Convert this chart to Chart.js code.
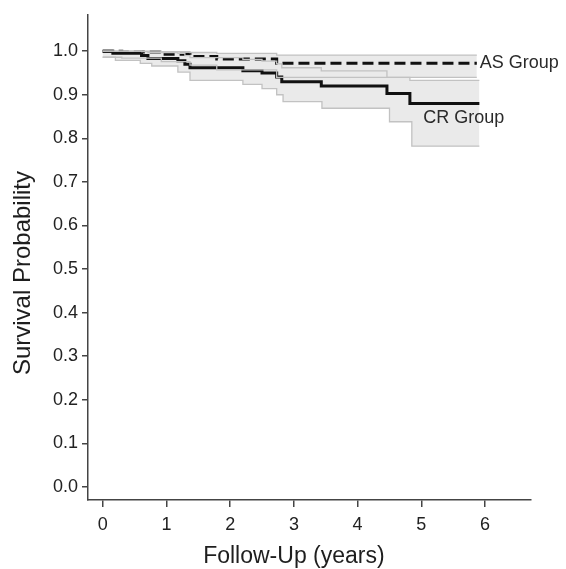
<!DOCTYPE html>
<html>
<head>
<meta charset="utf-8">
<script src="https://cdn.jsdelivr.net/npm/chart.js@4/dist/chart.umd.min.js"></script>
<style>
  html, body { margin: 0; padding: 0; background: #fff; }
  #wrap { width: 566px; height: 569px; }
</style>
</head>
<body>
<div id="wrap"><canvas id="kmChart" width="566" height="569"></canvas></div>
<script>
// tick labels
const xTicks = [0, 1, 2, 3, 4, 5, 6];
const yTicks = [0, 0.1, 0.2, 0.3, 0.4, 0.5, 0.6, 0.7, 0.8, 0.9, 1.0];

// AS group: survival estimate and confidence band (years / probability)
const asTime  = [0, 0.3, 0.92, 1.37, 1.79, 2.73, 5.87];
const asSurv  = [1.0, 0.998, 0.993, 0.988, 0.982, 0.972, 0.972];
const asUpper = [1.0, 1.0, 0.999, 0.997, 0.995, 0.991, 0.991];
const asLower = [0.986, 0.984, 0.976, 0.968, 0.957, 0.94, 0.94];

// CR group
const crTime  = [0, 0.16, 0.61, 0.71, 1.18, 1.29, 1.37, 2.2, 2.5, 2.73, 2.81, 3.43, 4.46, 4.82, 5.91];
const crSurv  = [1.0, 0.995, 0.99, 0.983, 0.978, 0.970, 0.962, 0.955, 0.950, 0.941, 0.930, 0.920, 0.903, 0.880, 0.880];
const crUpper = [1.0, 1.0, 0.999, 0.997, 0.995, 0.99, 0.985, 0.981, 0.977, 0.971, 0.962, 0.955, 0.94, 0.933, 0.933];
const crLowTime = [0, 0.2, 0.59, 0.77, 1.18, 1.37, 2.2, 2.5, 2.73, 2.83, 3.44, 4.5, 4.85, 5.91];
const crLower   = [0.986, 0.979, 0.972, 0.966, 0.952, 0.933, 0.924, 0.914, 0.9, 0.884, 0.869, 0.838, 0.782, 0.782];

const FONT = '"Liberation Sans", Arial, Helvetica, sans-serif';
Chart.defaults.font.family = FONT;

const pts = (t, v) => t.map((x, i) => ({ x: x, y: v[i] }));

const band = (data, fill) => ({
  data: data,
  stepped: true,
  pointRadius: 0,
  borderColor: "#c2c2c2",
  borderWidth: 1.3,
  backgroundColor: "#eaeaea",
  fill: fill
});

const axisTitles = {
  id: "axisTitles",
  afterDraw(chart) {
    const { ctx, scales: { x, y } } = chart;
    ctx.save();
    ctx.fillStyle = "#1e1e1e";
    ctx.textAlign = "center";

    ctx.font = "23px " + FONT;
    ctx.textBaseline = "alphabetic";
    const xc = (x.getPixelForValue(xTicks[0]) + x.getPixelForValue(xTicks[xTicks.length - 1])) / 2;
    ctx.fillText("Follow-Up (years)", xc, 563);

    const yc = (y.getPixelForValue(yTicks[0]) + y.getPixelForValue(yTicks[yTicks.length - 1])) / 2;
    ctx.font = "24px " + FONT;
    ctx.translate(23, yc + 4);
    ctx.rotate(-Math.PI / 2);
    ctx.textBaseline = "middle";
    ctx.fillText("Survival Probability", 0, 0);
    ctx.restore();

    // group labels
    ctx.save();
    ctx.fillStyle = "#2a2a2a";
    ctx.font = "18px " + FONT;
    ctx.textAlign = "left";
    ctx.textBaseline = "middle";
    const last = asTime.length - 1;
    ctx.fillText("AS Group", x.getPixelForValue(asTime[last]) + 3, y.getPixelForValue(asSurv[last]));
    ctx.fillText("CR Group", x.getPixelForValue(5.03), y.getPixelForValue(0.846));
    ctx.restore();
  }
};

new Chart(document.getElementById("kmChart").getContext("2d"), {
  type: "line",
  data: {
    datasets: [
      band(pts(asTime, asUpper), "+1"),
      band(pts(asTime, asLower), false),
      band(pts(crTime, crUpper), "+1"),
      band(pts(crLowTime, crLower), false),
      {
        label: "CR Group",
        data: pts(crTime, crSurv),
        stepped: true,
        pointRadius: 0,
        borderColor: "#111",
        borderWidth: 3,
        fill: false
      },
      {
        label: "AS Group",
        data: pts(asTime, asSurv),
        stepped: true,
        pointRadius: 0,
        borderColor: "#111",
        borderWidth: 3,
        borderDash: [11, 5],
        fill: false
      }
    ]
  },
  options: {
    responsive: false,
    animation: false,
    layout: { padding: { top: 15, right: 35, left: 0, bottom: 0 } },
    plugins: {
      legend: { display: false },
      tooltip: { enabled: false },
      filler: { drawTime: "beforeDatasetsDraw" }
    },
    scales: {
      x: {
        type: "linear",
        min: -0.23,
        max: 6.72,
        afterBuildTicks: s => { s.ticks = xTicks.map(v => ({ value: v })); },
        afterFit: s => { s.height = 69; },
        grid: { drawOnChartArea: false, drawTicks: true, tickLength: 7, tickColor: "#444", lineWidth: 1.5 },
        border: { display: true, color: "#444", width: 1.5 },
        ticks: { color: "#222", font: { size: 18 }, padding: 7, maxRotation: 0 }
      },
      y: {
        type: "linear",
        min: -0.03,
        max: 1.083,
        afterBuildTicks: s => { s.ticks = yTicks.map(v => ({ value: v })); },
        afterFit: s => { s.width = 88; },
        grid: { drawOnChartArea: false, drawTicks: true, tickLength: 6, tickColor: "#444", lineWidth: 1.5 },
        border: { display: true, color: "#444", width: 1.5 },
        ticks: { color: "#222", font: { size: 18 }, padding: 4, callback: v => v.toFixed(1) }
      }
    }
  },
  plugins: [axisTitles]
});
</script>
</body>
</html>
